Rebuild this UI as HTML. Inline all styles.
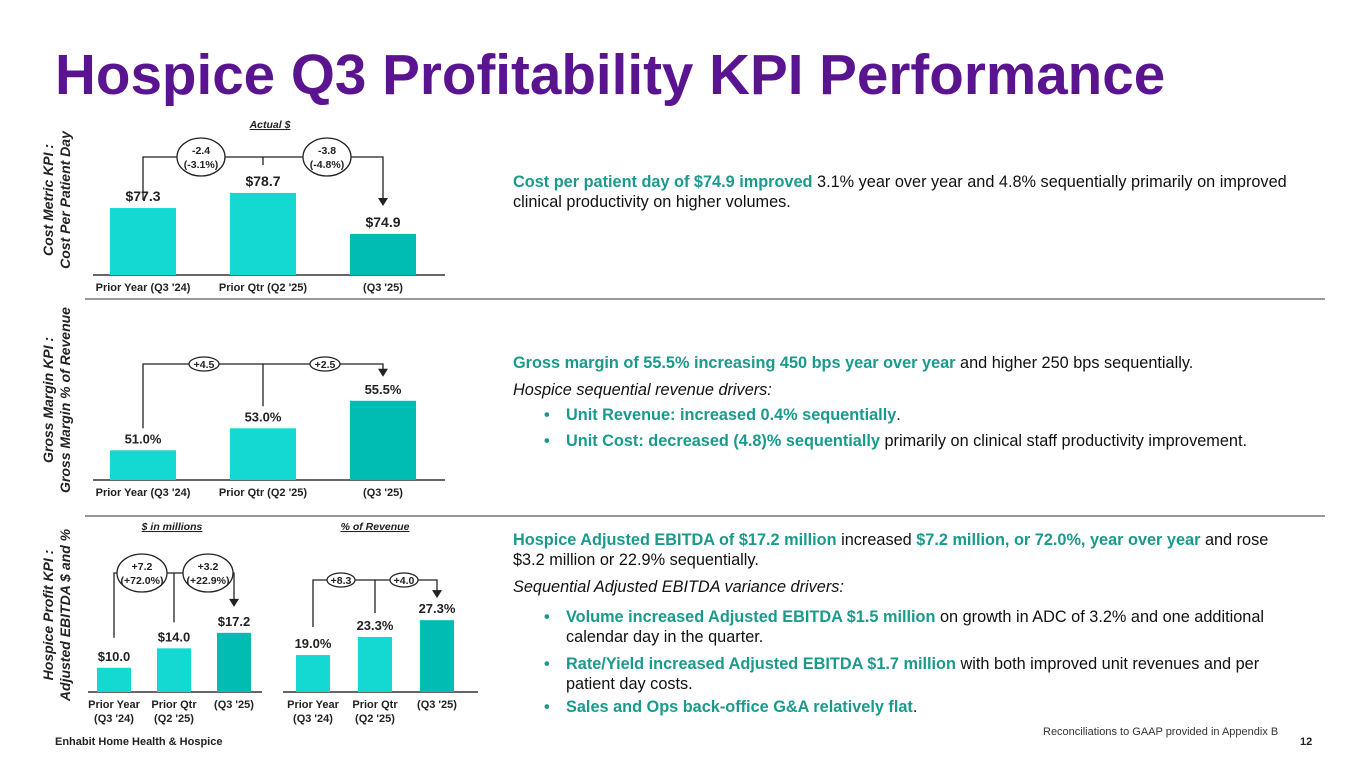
<!DOCTYPE html>
<html><head><meta charset="utf-8">
<style>
body{margin:0;width:1365px;height:768px;background:#fff;position:relative;overflow:hidden;font-family:"Liberation Sans",Arial,sans-serif;}
.t{position:absolute;font-size:16.3px;color:#111;line-height:20px;white-space:nowrap}
.g{color:#1a9a8c;font-weight:bold}
.i{font-style:italic}
.b{position:absolute;font-size:16.3px;line-height:20px;white-space:nowrap;color:#111}
.b span.dot{position:absolute;left:-22px;color:#1a9a8c;font-weight:bold}
</style></head><body>
<div style="position:absolute;left:55px;top:40px;font-size:56.6px;font-weight:bold;color:#5a1490;line-height:70px">Hospice Q3 Profitability KPI Performance</div>

<svg id="charts" width="1365" height="768" style="position:absolute;left:0;top:0" font-family="Liberation Sans, Arial, sans-serif">
<line x1="85" y1="299" x2="1325" y2="299" stroke="#777" stroke-width="1.5"/>
<line x1="85" y1="516" x2="1325" y2="516" stroke="#777" stroke-width="1.5"/>
<g font-weight="bold" font-style="italic" font-size="14" fill="#222">
<text transform="translate(53,200) rotate(-90)" text-anchor="middle"><tspan x="0" dy="0">Cost Metric KPI :</tspan><tspan x="0" dy="17">Cost Per Patient Day</tspan></text>
<text transform="translate(53,400) rotate(-90)" text-anchor="middle"><tspan x="0" dy="0">Gross Margin KPI :</tspan><tspan x="0" dy="17">Gross Margin % of Revenue</tspan></text>
<text transform="translate(53,615) rotate(-90)" text-anchor="middle"><tspan x="0" dy="0">Hospice Profit KPI :</tspan><tspan x="0" dy="17">Adjusted EBITDA $ and %</tspan></text>
</g>
<g id="c1"></g><g id="c2"></g><g id="c3"></g><g id="c4"></g>
</svg>

<div class="t" style="left:513px;top:172px">
<span class="g">Cost per patient day of $74.9 improved</span> 3.1% year over year and 4.8% sequentially primarily on improved<br>clinical productivity on higher volumes.</div>

<div class="t" style="left:513px;top:353px"><span class="g">Gross margin of 55.5% increasing 450 bps year over year</span> and higher 250 bps sequentially.</div>
<div class="t i" style="left:513px;top:380px">Hospice sequential revenue drivers:</div>
<div class="b" style="left:566px;top:405px"><span class="dot">•</span><span class="g">Unit Revenue: increased 0.4% sequentially</span>.</div>
<div class="b" style="left:566px;top:431px"><span class="dot">•</span><span class="g">Unit Cost: decreased (4.8)% sequentially</span> primarily on clinical staff productivity improvement.</div>

<div class="t" style="left:513px;top:530px"><span class="g">Hospice Adjusted EBITDA of $17.2 million</span> increased <span class="g">$7.2 million, or 72.0%, year over year</span> and rose<br>$3.2 million or 22.9% sequentially.</div>
<div class="t i" style="left:513px;top:577px">Sequential Adjusted EBITDA variance drivers:</div>
<div class="b" style="left:566px;top:607px"><span class="dot">•</span><span class="g">Volume increased Adjusted EBITDA $1.5 million</span> on growth in ADC of 3.2% and one additional<br>calendar day in the quarter.</div>
<div class="b" style="left:566px;top:654px"><span class="dot">•</span><span class="g">Rate/Yield increased Adjusted EBITDA $1.7 million</span> with both improved unit revenues and per<br>patient day costs.</div>
<div class="b" style="left:566px;top:697px"><span class="dot">•</span><span class="g">Sales and Ops back-office G&amp;A relatively flat</span>.</div>

<div style="position:absolute;left:55px;top:736px;font-size:11px;font-weight:bold;color:#222">Enhabit Home Health &amp; Hospice</div>
<div style="position:absolute;left:1043px;top:726px;font-size:11px;color:#333">Reconciliations to GAAP provided in Appendix B</div>
<div style="position:absolute;left:1300px;top:736px;font-size:11px;font-weight:bold;color:#222">12</div>

<script>
const costCats = ["Prior Year (Q3 '24)", "Prior Qtr (Q2 '25)", "(Q3 '25)"];
const costVals = [77.3, 78.7, 74.9];
const costLabels = ["$77.3", "$78.7", "$74.9"];
const costDeltas = [["-2.4","(-3.1%)"],["-3.8","(-4.8%)"]];
const marginCats = ["Prior Year (Q3 '24)", "Prior Qtr (Q2 '25)", "(Q3 '25)"];
const marginVals = [51.0, 53.0, 55.5];
const marginLabels = ["51.0%", "53.0%", "55.5%"];
const marginDeltas = [["+4.5"],["+2.5"]];
const ebitdaCats = [["Prior Year","(Q3 '24)"],["Prior Qtr","(Q2 '25)"],["(Q3 '25)"]];
const ebitdaVals = [10.0, 14.0, 17.2];
const ebitdaLabels = ["$10.0", "$14.0", "$17.2"];
const ebitdaDeltas = [["+7.2","(+72.0%)"],["+3.2","(+22.9%)"]];
const pctVals = [19.0, 23.3, 27.3];
const pctLabels = ["19.0%", "23.3%", "27.3%"];
const pctDeltas = [["+8.3"],["+4.0"]];

const NS="http://www.w3.org/2000/svg";
function mk(p,tag,a){const e=document.createElementNS(NS,tag);for(const k in a)e.setAttribute(k,a[k]);p.appendChild(e);return e;}
function chart(gid,cfg){
  const g=document.getElementById(gid);
  const y=v=>cfg.base0-(v-cfg.dom)*cfg.k;
  const x=i=>cfg.x0+i*cfg.step;
  const ax=mk(g,'line',{x1:cfg.ax1,x2:cfg.ax2,y1:cfg.base0,y2:cfg.base0,stroke:'#333','stroke-width':1.5});
  
  
  if(cfg.title){const t=mk(g,'text',{x:cfg.tx,y:cfg.ty,'text-anchor':'middle','font-size':10.5,'font-weight':'bold','font-style':'italic','text-decoration':'underline',fill:'#222'});t.textContent=cfg.title;
    
    }
  cfg.vals.forEach((v,i)=>{
    const top=y(v);
    const r=mk(g,'rect',{x:x(i)-cfg.bw/2,y:top,width:cfg.bw,height:cfg.base0-top,fill:i==2?'#00bdb3':'#14d9d2'});
    
    
    const l=mk(g,'text',{x:x(i),y:top-7,'text-anchor':'middle','font-size':cfg.fs,'font-weight':'bold',fill:'#222'});
    l.textContent=cfg.labels[i];
    
    
    const c=Array.isArray(cfg.cats[i])?cfg.cats[i]:[cfg.cats[i]];
    c.forEach((s,j)=>{const t=mk(g,'text',{x:x(i),y:cfg.base0+16+j*14,'text-anchor':'middle','font-size':11,'font-weight':'bold',fill:'#222'});t.textContent=s;
      
      });
  });
  const by=cfg.by, xa=x(0), xb=x(1), xc=x(2);
  const st={stroke:'#222','stroke-width':1.3,fill:'none'};
  mk(g,'path',Object.assign({d:`M${xa},${y(cfg.vals[0])-cfg.gap0} V${by} H${xc} V${y(cfg.vals[2])-cfg.gapA-7}`},st));
  mk(g,'path',Object.assign({d:`M${xb},${by} V${cfg.midTo!=null?cfg.midTo:y(cfg.vals[1])-cfg.gap1}`},st));
  mk(g,'path',{d:`M${xc-5},${y(cfg.vals[2])-cfg.gapA-8} L${xc+5},${y(cfg.vals[2])-cfg.gapA-8} L${xc},${y(cfg.vals[2])-cfg.gapA} Z`,fill:'#222'});
  cfg.deltas.forEach((d,i)=>{
    const ex=cfg.ex[i];
    const e=mk(g,'ellipse',{cx:ex,cy:by,rx:cfg.erx,ry:cfg.ery,fill:'#fff',stroke:'#222','stroke-width':1.3});
    
    
    d.forEach((s,j)=>{const t=mk(g,'text',{x:ex,y:by+4+(d.length==2?(j?7:-7):0),'text-anchor':'middle','font-size':10.5,'font-weight':'bold',fill:'#222'});t.textContent=s;
      
      });
  });
}
chart('c1',{vals:costVals,labels:costLabels,cats:costCats,deltas:costDeltas,dom:71.1,k:10.8,base0:275,x0:143,step:120,bw:66,ax1:93,ax2:445,fs:14,title:'Actual $',tx:270,ty:128,by:157,gap0:8,gap1:200,midTo:165,gapA:28,ex:[201,327],erx:24,ery:19});
chart('c2',{vals:marginVals,labels:marginLabels,cats:marginCats,deltas:marginDeltas,dom:48.3,k:11,base0:480,x0:143,step:120,bw:66,ax1:93,ax2:445,fs:13,by:364,gap0:22,gap1:22,gapA:24,ex:[204,325],erx:15,ery:7});
chart('c3',{vals:ebitdaVals,labels:ebitdaLabels,cats:ebitdaCats,deltas:ebitdaDeltas,dom:5.0,k:4.85,base0:692,x0:114,step:60,bw:34,ax1:88,ax2:262,fs:13,title:'$ in millions',tx:172,ty:530,by:573,gap0:30,gap1:26,gapA:26,ex:[142,208],erx:25,ery:19});
chart('c4',{vals:pctVals,labels:pctLabels,cats:ebitdaCats,deltas:pctDeltas,dom:10.2,k:4.2,base0:692,x0:313,step:62,bw:34,ax1:283,ax2:478,fs:13,title:'% of Revenue',tx:375,ty:530,by:580,gap0:28,gap1:24,gapA:22,ex:[341,404],erx:14,ery:7});
</script>
</body></html>
